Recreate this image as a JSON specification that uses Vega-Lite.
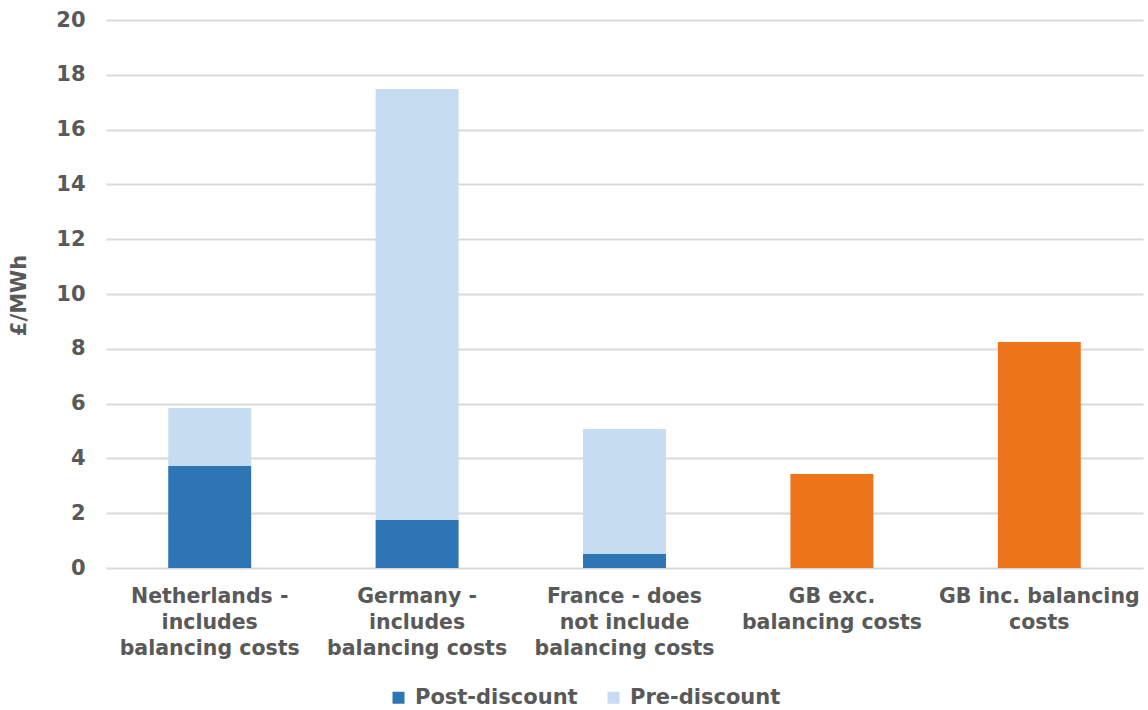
{
  "$schema": "https://vega.github.io/schema/vega-lite/v6.json",
  "width": 1037,
  "height": 548,
  "autosize": {"type": "none"},
  "padding": {"left": 106, "top": 20, "right": 5, "bottom": 142},
  "background": "white",
  "config": {
    "view": {"stroke": null},
    "font": "DejaVu Sans"
  },
  "data": {
    "values": [
      {"category": "Netherlands -|includes|balancing costs", "series": "Post-discount", "order": 1, "value": 3.72},
      {"category": "Netherlands -|includes|balancing costs", "series": "Pre-discount", "order": 2, "value": 2.12},
      {"category": "Germany -|includes|balancing costs", "series": "Post-discount", "order": 1, "value": 1.75},
      {"category": "Germany -|includes|balancing costs", "series": "Pre-discount", "order": 2, "value": 15.73},
      {"category": "France - does|not include|balancing costs", "series": "Post-discount", "order": 1, "value": 0.51},
      {"category": "France - does|not include|balancing costs", "series": "Pre-discount", "order": 2, "value": 4.56},
      {"category": "GB exc.|balancing costs", "series": "GB", "order": 1, "value": 3.43},
      {"category": "GB inc. balancing|costs", "series": "GB", "order": 1, "value": 8.25}
    ]
  },
  "mark": {"type": "bar"},
  "encoding": {
    "x": {
      "field": "category",
      "type": "nominal",
      "sort": null,
      "scale": {"paddingInner": 0.6, "paddingOuter": 0.3},
      "axis": {
        "title": null,
        "domain": false,
        "ticks": false,
        "labelAngle": 0,
        "labelExpr": "split(datum.value, '|')",
        "labelFont": "DejaVu Sans",
        "labelFontWeight": "bold",
        "labelFontSize": 20.5,
        "labelColor": "#595959",
        "labelPadding": 18,
        "labelLineHeight": 26,
        "labelLimit": 300
      }
    },
    "y": {
      "field": "value",
      "type": "quantitative",
      "stack": "zero",
      "scale": {"domain": [0, 20], "nice": false},
      "axis": {
        "title": "£/MWh",
        "titleFont": "DejaVu Sans",
        "titleFontWeight": "bold",
        "titleFontSize": 21,
        "titleColor": "#595959",
        "titleAngle": -90,
        "titleAlign": "center",
        "titleBaseline": "middle",
        "titleX": -87,
        "titleY": 275,
        "values": [0, 2, 4, 6, 8, 10, 12, 14, 16, 18, 20],
        "domain": false,
        "ticks": false,
        "grid": true,
        "gridColor": "#d9d9d9",
        "gridWidth": 2,
        "labelFont": "DejaVu Sans",
        "labelFontWeight": "bold",
        "labelFontSize": 21,
        "labelColor": "#595959",
        "labelPadding": 21
      }
    },
    "color": {
      "field": "series",
      "type": "nominal",
      "scale": {
        "domain": ["Post-discount", "Pre-discount", "GB"],
        "range": ["#2e75b6", "#c6dcf1", "#ee741a"]
      },
      "legend": {
        "title": null,
        "values": ["Post-discount", "Pre-discount"],
        "orient": "none",
        "direction": "horizontal",
        "legendX": 282,
        "legendY": 667,
        "symbolType": "square",
        "symbolSize": 144,
        "symbolStrokeWidth": 0,
        "labelFont": "DejaVu Sans",
        "labelFontWeight": "bold",
        "labelFontSize": 21,
        "labelColor": "#595959",
        "labelOffset": 6,
        "columnPadding": 25,
        "labelLimit": 300
      }
    },
    "order": {"field": "order", "type": "quantitative"}
  }
}
